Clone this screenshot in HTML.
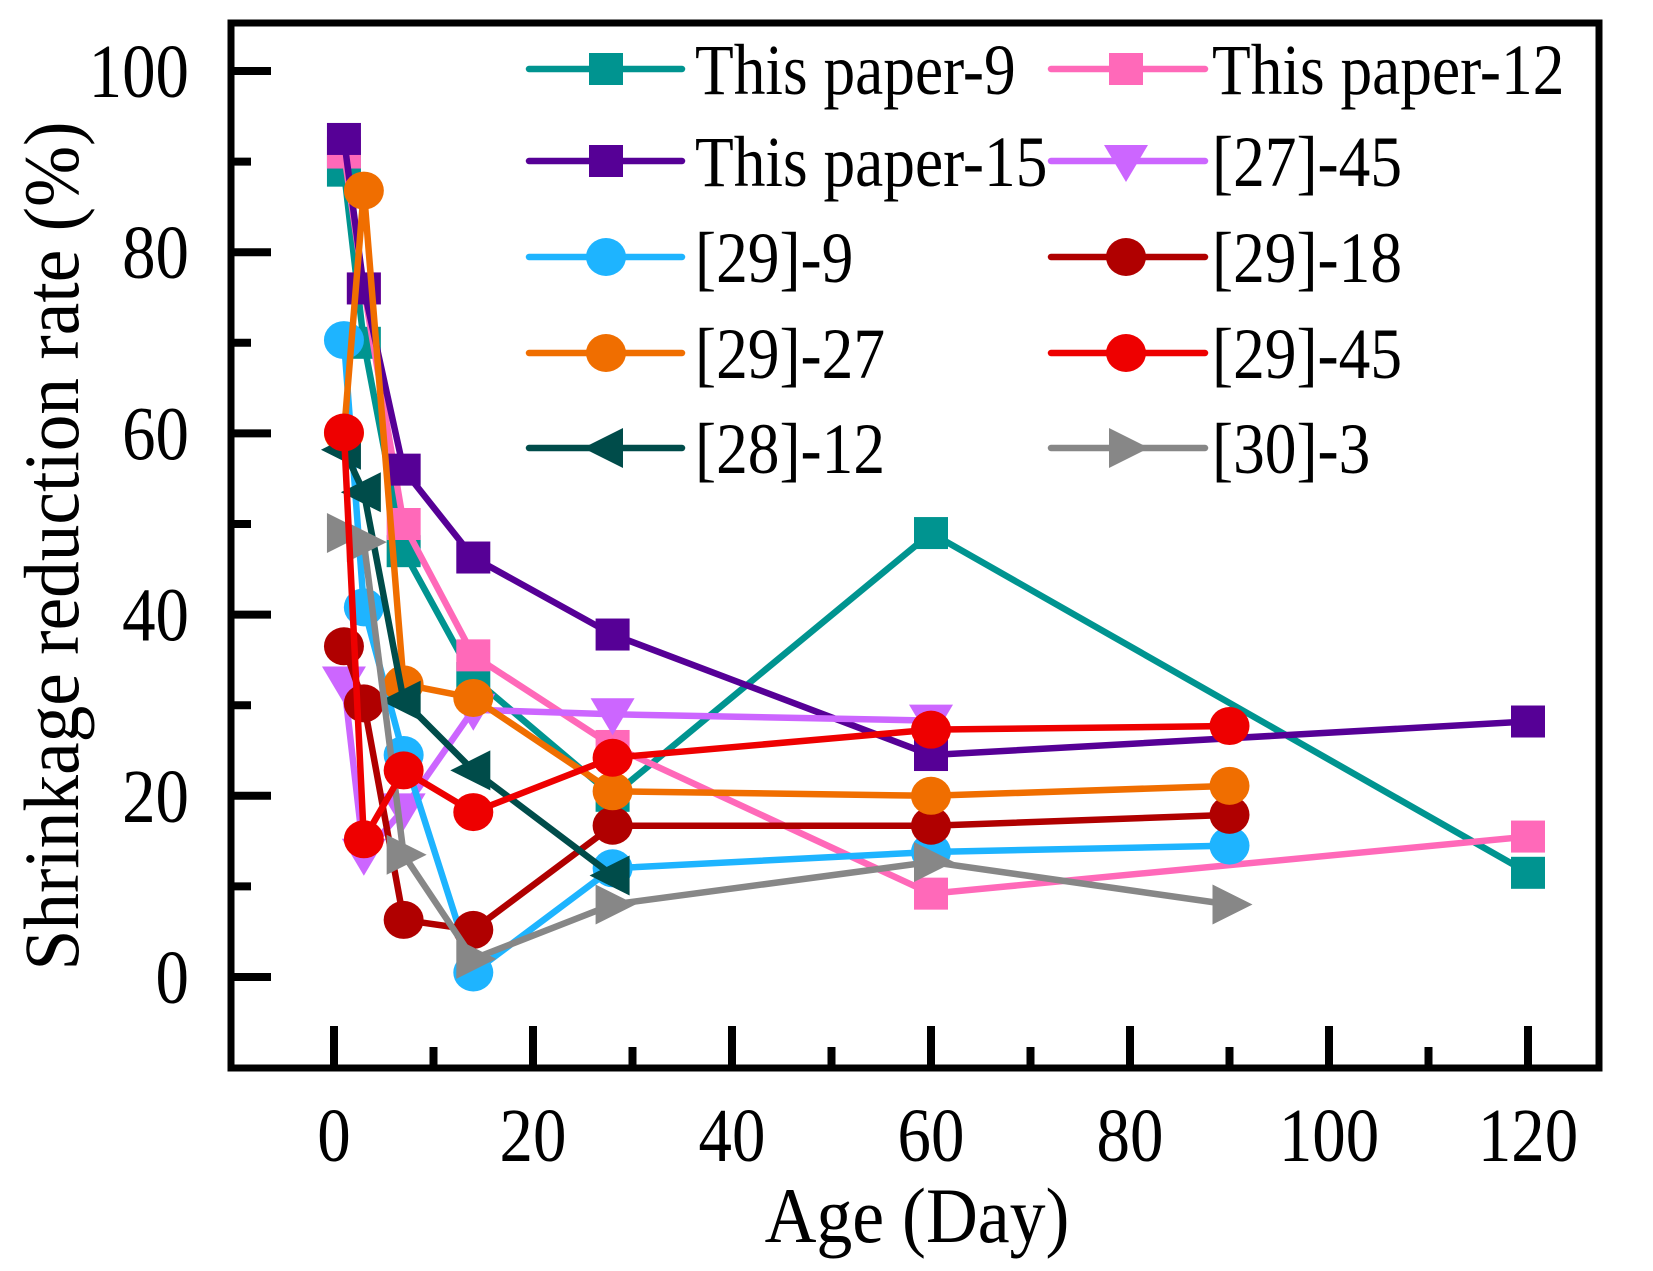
<!DOCTYPE html>
<html><head><meta charset="utf-8"><style>
html,body{margin:0;padding:0;background:#fff}
svg{display:block}
text{font-family:"Liberation Serif",serif;fill:#000}
</style></head><body>
<svg id="chart" width="1653" height="1271" viewBox="0 0 1653 1271" xmlns="http://www.w3.org/2000/svg">
<g id="axes"></g>
<g id="plot"></g>
<g id="legend"></g>
</svg>
<script>
const xTicks = [0,20,40,60,80,100,120];
const yTicks = [0,20,40,60,80,100];
const seriesNames = ["This paper-9","This paper-12","This paper-15","[27]-45","[29]-9","[29]-18","[29]-27","[29]-45","[28]-12","[30]-3"];
const sp9  = [[1,89],[3,70],[7,47],[14,33],[28,20],[60,49],[120,11.5]];
const sp12 = [[1,91],[3,76],[7,50],[14,35.5],[28,25.5],[60,9.2],[120,15.5]];
const sp15 = [[1,92.5],[3,76],[7,56],[14,46.3],[28,37.8],[60,24.5],[120,28.2]];
const s27_45 = [[1,32.5],[3,13.5],[7,18.5],[14,29.5],[28,29],[60,28.3]];
const s29_9  = [[1,70.3],[3,40.8],[7,24.5],[14,0.5],[28,12],[60,13.8],[90,14.5]];
const s29_18 = [[1,36.5],[3,30.2],[7,6.3],[14,5.2],[28,16.7],[60,16.7],[90,17.9]];
const s29_27 = [[1,60],[3,86.8],[7,32.3],[14,30.8],[28,20.5],[60,20],[90,21.1]];
const s29_45 = [[1,60.1],[3,15.2],[7,22.8],[14,18.2],[28,24.2],[60,27.3],[90,27.7]];
const s28_12 = [[1,58.2],[3,53.5],[7,30.5],[14,22.8],[28,11.2]];
const s30_3  = [[1,49],[3,48],[7,13.5],[14,2],[28,8],[60,12.7],[90,8]];

const NS="http://www.w3.org/2000/svg";
const L=231,R=1599,T=23,B=1068;
const X0=334,XS=(1528-334)/120;
const Y0=977,YS=(977-71)/100;
const xs=v=>X0+v*XS, ys=v=>Y0-v*YS;
function mk(tag,attrs,parent){const e=document.createElementNS(NS,tag);for(const k in attrs)e.setAttribute(k,attrs[k]);parent.appendChild(e);return e;}
function condense(t,f){const w=t.getComputedTextLength();t.setAttribute('textLength',w*f);t.setAttribute('lengthAdjust','spacingAndGlyphs');}
const axes=document.getElementById('axes'),plot=document.getElementById('plot'),leg=document.getElementById('legend');

for(let v=0;v<=120;v+=10){
  const major=v%20===0;
  const t=mk('line',{x1:xs(v),x2:xs(v),y1:B,y2:B-(major?42:21),stroke:'#000','stroke-width':8},axes);
  
  
}
for(let v=0;v<=100;v+=10){
  const major=v%20===0;
  const t=mk('line',{x1:L,x2:L+(major?40:20),y1:ys(v),y2:ys(v),stroke:'#000','stroke-width':8},axes);
  
  
}
xTicks.forEach(v=>{
  const t=mk('text',{x:xs(v),y:1161,'text-anchor':'middle','font-size':76},axes);t.textContent=v;
  
  
  condense(t,0.88);
});
yTicks.forEach(v=>{
  const t=mk('text',{x:189,y:ys(v)+26,'text-anchor':'end','font-size':76},axes);t.textContent=v;
  
  
  condense(t,0.88);
});
const frame=mk('rect',{x:L,y:T,width:R-L,height:B-T,fill:'none',stroke:'#000','stroke-width':7},axes);


const xt=mk('text',{x:917,y:1242,'text-anchor':'middle','font-size':78},axes);xt.textContent='Age (Day)';


condense(xt,0.92);
const yt=mk('text',{x:0,y:0,'text-anchor':'middle','font-size':78,transform:'translate(78,546) rotate(-90)'},axes);yt.textContent='Shrinkage reduction rate (%)';


condense(yt,0.94);

function marker(shape,cx,cy,color,parent){
  let e;
  if(shape==='sq') e=mk('rect',{x:cx-17,y:cy-16,width:34,height:32,fill:color},parent);
  else if(shape==='ci') e=mk('ellipse',{cx:cx,cy:cy,rx:20,ry:19,fill:color},parent);
  else if(shape==='td') e=mk('polygon',{points:`${cx-22},${cy-16} ${cx+22},${cy-16} ${cx},${cy+21}`,fill:color},parent);
  else if(shape==='tl') e=mk('polygon',{points:`${cx-23},${cy} ${cx+17},${cy-20} ${cx+17},${cy+20}`,fill:color},parent);
  else e=mk('polygon',{points:`${cx+23},${cy} ${cx-17},${cy-20} ${cx-17},${cy+20}`,fill:color},parent);
  return e;
}
const defs=[
 [sp9,'#009490','sq'],[sp12,'#ff69b9','sq'],[sp15,'#560096','sq'],[s27_45,'#cc66ff','td'],
 [s29_9,'#1eb4ff','ci'],[s29_18,'#b00000','ci'],[s29_27,'#f06e00','ci'],[s29_45,'#ee0000','ci'],
 [s28_12,'#004c4a','tl'],[s30_3,'#878787','tr']];
const drawOrder=[0,1,2,3,4,5,6,8,9,7];
drawOrder.forEach(i=>{
  const [d,c,s]=defs[i];
  const g=mk('g',{},plot);
  
  
  const pl=mk('polyline',{points:d.map(p=>xs(p[0])+','+ys(p[1])).join(' '),fill:'none',stroke:c,'stroke-width':6.5,'stroke-linejoin':'round'},g);
  
  
  d.forEach(p=>{
    const m=marker(s,xs(p[0]),ys(p[1]),c,g);
    
    
  });
});
const rows=[69,161,257,353,448];
defs.forEach((df,i)=>{
  const col=i%2,row=Math.floor(i/2);
  const x1=col?1051:529,x2=col?1205:682,mx=col?1126:606,tx=col?1212:695,y=rows[row];
  const g=mk('g',{},leg);
  
  
  mk('line',{x1:x1,x2:x2,y1:y,y2:y,stroke:df[1],'stroke-width':6.5,'stroke-linecap':'round'},g);
  marker(df[2],mx,y,df[1],g);
  const t=mk('text',{x:tx,y:y+25,'font-size':72},g);t.textContent=seriesNames[i];
  condense(t,0.88);
});
</script>
</body></html>
